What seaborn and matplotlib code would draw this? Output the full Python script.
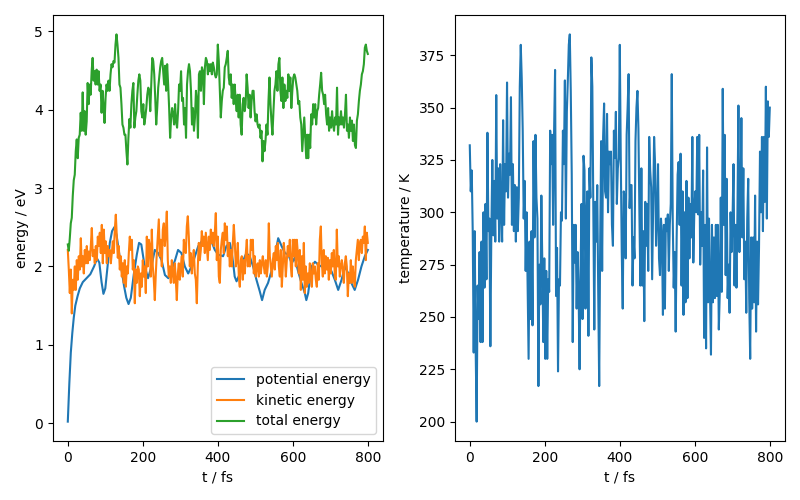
import numpy as np
import matplotlib
matplotlib.use("Agg")
import matplotlib.pyplot as plt
import seaborn as sns

# potential energy (smooth curve), read at irregular times
pot_t = [0, 4, 8, 12, 16, 20, 26, 32, 40, 50,
         60, 70, 78, 84, 90, 95, 100, 106, 112, 118,
         124, 130, 136, 142, 150, 156, 162, 168, 176, 184,
         190, 196, 205, 214, 223, 232, 241, 250, 259, 268,
         277, 286, 294, 303, 312, 321, 330, 339, 348, 357,
         366, 375, 383, 392, 401, 414, 423, 432, 436, 441,
         445, 450, 459, 468, 476, 485, 494, 503, 512, 518,
         525, 534, 543, 552, 561, 570, 579, 588, 597, 605,
         614, 623, 632, 636, 641, 650, 659, 668, 676, 685,
         694, 703, 712, 721, 730, 739, 748, 756, 765, 774,
         783, 792, 800]
pot_E = [0.02, 0.5, 0.9, 1.15, 1.35, 1.5, 1.62, 1.72, 1.8, 1.85,
         1.9, 2.0, 2.1, 2.05, 1.8, 1.65, 1.72, 2.0, 2.3, 2.45,
         2.5, 2.4, 2.2, 2.0, 1.75, 1.6, 1.52, 1.6, 1.9, 2.15,
         2.3, 2.28, 2.0, 1.85, 2.0, 2.21, 2.17, 2.08, 1.89, 1.85,
         1.96, 2.08, 2.21, 2.17, 2.0, 1.91, 2.0, 2.13, 2.26, 2.32,
         2.3, 2.26, 2.32, 2.21, 2.15, 2.13, 2.26, 2.3, 2.21, 2.04,
         1.87, 1.81, 1.91, 2.08, 2.17, 2.13, 2.0, 1.83, 1.68, 1.57,
         1.7, 1.79, 1.94, 2.13, 2.36, 2.26, 2.17, 2.15, 2.04, 2.11,
         1.94, 1.79, 1.66, 1.57, 1.66, 2.0, 2.06, 2.02, 2.0, 2.04,
         2.0, 1.94, 1.83, 1.7, 1.83, 2.0, 1.91, 1.79, 1.7, 1.83,
         2.0, 2.13, 2.21]

# kinetic energy, evenly sampled 0..800 fs
kin_E = [2.21, 1.96, 1.66, 1.96, 1.4, 1.83, 1.7, 2.0, 1.7, 2.08,
         1.83, 2.13, 1.96, 2.36, 2.0, 2.13, 1.91, 2.21, 2.04, 2.26,
         2.04, 2.19, 2.08, 2.26, 2.49, 2.13, 2.21, 2.04, 2.26, 2.08,
         2.38, 2.26, 2.43, 2.17, 2.53, 2.04, 2.47, 2.17, 2.32, 2.04,
         2.26, 2.13, 2.21, 2.04, 2.17, 2.32, 2.17, 2.47, 2.66, 2.38,
         2.11, 2.26, 1.96, 2.13, 1.87, 2.04, 1.79, 2.08, 1.74, 2.0,
         1.91, 2.17, 2.38, 2.21, 2.34, 1.96, 2.08, 1.53, 1.96, 1.79,
         2.0, 1.96,
         1.62, 1.91, 1.74, 2.08, 1.87, 2.0, 1.66, 2.38, 2.0, 2.34,
         2.26, 1.87, 2.47, 2.0, 1.83, 1.57, 1.91, 2.17, 2.38, 2.6,
         2.13, 2.34, 2.0, 2.47, 2.55, 2.26, 2.43, 2.7, 2.08, 1.87,
         2.0, 1.79, 2.08, 1.91, 1.79, 2.04, 1.83, 1.57, 1.91, 2.04,
         1.83, 2.0, 2.13, 1.87, 2.34, 2.21, 2.17, 2.51, 2.64, 2.38,
         2.0, 2.17, 1.91, 2.08, 2.21, 1.91, 1.83, 1.53, 2.0, 2.3,
         2.08, 2.21, 2.45, 2.26, 2.38, 2.17, 2.43, 2.26, 2.08, 2.38,
         2.21, 2.47, 2.3, 2.43, 2.26,
         2.43, 2.68, 2.08, 2.38, 1.87, 1.79, 2.21, 2.34, 2.43, 2.17,
         2.55, 2.34, 2.51, 2.13, 2.3, 2.0, 2.21, 2.0, 2.3, 2.53,
         2.3, 2.0, 2.08, 2.3, 1.87, 1.74, 2.08, 2.13, 1.83, 2.08,
         1.91, 2.17, 2.34, 2.0, 2.13, 2.0, 2.34, 2.21, 2.34, 1.91,
         2.13, 1.87, 2.0, 2.04, 1.87, 2.08, 1.91, 2.04, 2.13, 2.0,
         1.91, 2.08, 1.87, 2.0, 2.55, 2.13, 2.0, 1.87, 2.08, 2.17,
         1.96, 2.26, 2.08, 2.3, 2.0, 1.87, 2.21, 1.74, 2.0, 2.3,
         2.13, 1.87, 2.08, 2.26, 2.13,
         2.34, 2.0, 1.87, 2.34, 2.13, 2.34, 2.0, 2.34, 2.17, 1.91,
         2.21, 1.7, 2.13, 1.83, 2.3, 1.66, 2.0, 1.74, 1.91, 1.79,
         2.04, 1.87, 1.74, 2.04, 1.91, 2.0, 1.83, 1.74, 2.04, 1.83,
         2.34, 2.51, 2.04, 1.87, 2.21, 1.91, 2.13, 1.96, 2.11, 1.83,
         2.08, 1.91, 2.17, 2.0, 2.21, 1.87, 1.83, 2.47, 2.0, 2.13,
         1.87, 2.0, 2.08, 1.96, 1.79, 2.04, 2.13, 2.0, 1.62, 1.91,
         1.79, 2.08, 1.79, 2.0, 1.83, 1.74, 2.08, 2.21, 2.34, 2.08,
         2.3, 2.34, 2.17, 2.38, 2.3, 2.51, 2.08, 2.43, 2.3]

# total energy, evenly sampled 0..800 fs
tot_E = [2.28, 2.2, 2.36, 2.55, 2.62, 2.9, 3.1,
         3.17, 3.47, 3.62, 3.38, 3.64, 3.68, 3.96, 3.73, 4.22, 3.73,
         3.98, 3.68, 3.85, 4.34, 4.07, 4.32, 4.19, 4.49, 4.66, 4.37,
         4.49, 4.32, 4.51, 4.32, 4.49, 4.24, 4.32, 3.96, 4.24, 4.02,
         3.83, 4.15, 4.32, 4.24, 4.37, 4.24, 4.45, 4.58, 4.54, 4.62,
         4.6, 4.83, 4.96, 4.83, 4.66, 4.32, 4.28, 4.07, 3.81, 3.77,
         3.68, 3.68, 3.47, 3.3, 3.64, 3.88, 3.77, 4.07, 4.24, 4.34,
         3.77, 3.9, 3.98, 4.19, 4.37, 4.45, 4.37,
         3.98, 3.9, 4.07, 3.81, 3.9, 4.02, 4.19, 4.28, 4.24, 3.98,
         4.32, 4.66, 4.62, 4.45, 4.15, 3.81, 4.02, 4.28, 4.41, 4.54,
         4.62, 4.66, 4.49, 4.32, 4.56, 4.24, 4.58, 4.32, 4.02, 3.64,
         3.9, 4.02, 3.94, 3.81, 4.07, 3.85, 3.77, 3.98, 4.32, 4.24,
         4.49, 4.11, 4.15, 3.81, 4.02, 3.64, 4.32, 4.49, 4.58, 4.49,
         4.24, 3.81, 4.02, 3.73, 3.9, 4.24, 4.11, 3.64, 4.45, 4.49,
         4.24, 4.54, 4.49, 4.07, 4.54, 4.66, 4.62, 4.45, 4.58, 4.49,
         4.58, 4.45, 4.6, 4.54, 4.45,
         4.41, 4.45, 4.83, 4.62, 4.24, 3.9, 4.11, 4.24, 4.28, 4.54,
         4.58, 4.66, 4.75, 4.41, 4.32, 4.45, 4.15, 4.32, 4.07, 4.32,
         4.11, 3.98, 4.19, 3.9, 4.19, 3.81, 3.68, 4.07, 4.15, 3.98,
         4.07, 4.45, 4.28, 4.02, 4.19, 3.9, 4.11, 4.24, 4.24, 3.98,
         3.85, 3.94, 3.81, 3.77, 3.81, 3.64, 3.73, 3.34, 3.6, 3.47,
         3.6, 3.81, 3.68, 4.11, 4.41, 4.07, 3.85, 3.68, 3.98, 4.24,
         4.32, 4.49, 4.24, 4.58, 4.66, 4.24, 4.11, 4.41, 4.02, 4.32,
         4.11, 4.24, 4.15, 4.45, 4.24,
         4.41, 4.02, 4.24, 4.41, 4.45, 4.41, 4.32, 4.24, 4.07, 4.11,
         3.9, 3.81, 3.47, 3.68, 3.9, 3.64, 3.38, 3.68, 3.38, 3.68,
         3.51, 3.94, 3.81, 4.07, 3.9, 4.07, 3.81, 3.98, 4.02, 4.19,
         4.32, 4.47, 4.24, 4.19, 4.07, 4.19, 3.94, 3.81, 4.02, 3.73,
         3.9, 3.77, 3.98, 3.81, 3.73, 3.9, 3.81, 4.28, 3.68, 3.9,
         3.81, 3.98, 3.81, 3.9, 3.77, 3.94, 4.19, 3.73, 3.81, 3.64,
         3.9, 3.73, 3.86, 3.6, 3.81, 3.55, 3.51, 3.86, 3.94, 4.11,
         4.24, 4.32, 4.45, 4.49, 4.58, 4.79, 4.83, 4.75, 4.71]

# temperature, evenly sampled 0..800 fs
temp_K = [332, 310, 320, 291, 233, 291, 235, 200, 265, 249,
          281, 238, 286, 238, 300, 264, 304, 268, 338, 291,
          297, 236, 291, 325, 289, 315, 286, 356, 297, 321,
          286, 323, 300, 286, 344, 294, 323, 310, 362, 307,
          328, 318, 355, 294, 323, 291, 313, 286, 312, 291,
          307, 360, 380, 364, 339, 297, 315, 272, 300, 265,
          230, 286, 249, 291, 246, 334, 288, 337, 307, 297,
          217, 275, 256, 308, 275, 238, 278, 230,
          272, 230, 268, 262, 339, 323, 337, 294, 339, 368,
          260, 283, 224, 268, 265, 300, 296, 339, 323, 363,
          297, 348, 363, 380, 385, 358, 318, 238, 294, 276,
          294, 254, 281, 262, 225, 273, 304, 249, 327, 320,
          254, 299, 310, 241, 321, 307, 374, 360, 300, 244,
          305, 286, 313, 262, 217, 286, 334, 272, 336, 352,
          310, 307, 347, 300, 329, 323, 329, 294, 284, 339,
          326, 348, 304, 321, 326, 380, 326, 281, 254,
          310, 307, 278, 337, 350, 366, 302, 313, 313, 265,
          288, 278, 334, 350, 358, 340, 300, 265, 321, 265,
          291, 248, 305, 284, 304, 272, 336, 320, 312, 268,
          304, 336, 323, 284, 297, 323, 278, 270, 297, 289,
          251, 294, 254, 297, 291, 299, 272, 294, 304, 366,
          297, 264, 281, 243, 288, 318, 324, 294, 328, 265,
          310, 251, 300, 257, 315, 259, 307, 278, 304, 288,
          336, 276, 300, 310, 300, 336, 299, 337, 275,
          300, 284, 320, 240, 294, 235, 331, 257, 297, 262,
          232, 294, 257, 288, 259, 294, 260, 294, 244, 262,
          307, 262, 359, 294, 337, 270, 316, 259, 275, 252,
          300, 281, 297, 323, 265, 294, 264, 300, 351, 281,
          300, 345, 288, 321, 268, 286, 252, 297, 316, 259,
          230, 288, 254, 288, 257, 308, 243, 286, 256, 283,
          329, 300, 336, 291, 336, 305, 360, 297, 353, 336,
          350]

t_end = 800
kin_t = np.linspace(0, t_end, len(kin_E))
tot_t = np.linspace(0, t_end, len(tot_E))
temp_t = np.linspace(0, t_end, len(temp_K))

fig, (ax1, ax2) = plt.subplots(1, 2, figsize=(8, 5), dpi=100)

sns.lineplot(x=pot_t, y=pot_E, ax=ax1, color="#1f77b4", label="potential energy", sort=False)
sns.lineplot(x=kin_t, y=kin_E, ax=ax1, color="#ff7f0e", label="kinetic energy", sort=False)
sns.lineplot(x=tot_t, y=tot_E, ax=ax1, color="#2ca02c", label="total energy", sort=False)
ax1.set_xlabel("t / fs")
ax1.set_ylabel("energy / eV")
ax1.legend(loc="lower right")

sns.lineplot(x=temp_t, y=temp_K, ax=ax2, color="#1f77b4", sort=False)
ax2.set_xlabel("t / fs")
ax2.set_ylabel("temperature / K")

fig.subplots_adjust(left=0.066, right=0.981, bottom=0.118, top=0.97, wspace=0.218)
fig.savefig("out.png", dpi=100)
